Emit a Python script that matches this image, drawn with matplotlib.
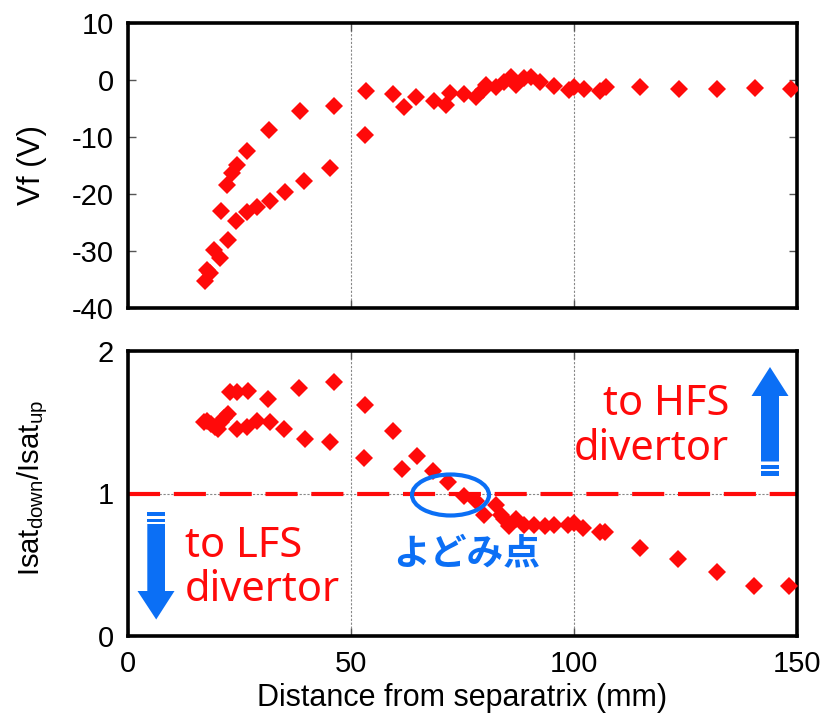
import matplotlib
matplotlib.use("Agg")
import matplotlib.pyplot as plt
from matplotlib.patches import Polygon, Ellipse

plt.rcParams['font.family'] = ['Liberation Sans', 'DejaVu Sans']
plt.rcParams['axes.unicode_minus'] = False
plt.rcParams['mathtext.fontset'] = 'custom'
plt.rcParams['mathtext.rm'] = 'Liberation Sans'

# floating potential vs distance from separatrix
x_vf = [17.3, 17.7, 18.4, 19.2, 20.7, 22.4, 20.8, 22.2, 23.3, 24.4, 26.7, 31.6,
        38.5, 46.2, 24.3, 26.7, 28.9, 31.8, 35.1, 39.4, 45.3, 53.1, 53.3, 59.5,
        61.9, 64.5, 68.5, 71.3, 72.2, 75.4, 78.0, 79.5, 80.3, 82.5, 84.4, 85.9,
        87.0, 88.9, 90.4, 92.3, 95.5, 98.8, 100.1, 102.2, 105.8, 107.1, 114.9,
        123.5, 132.1, 140.5, 148.6]
vf = [-35.3, -33.3, -33.9, -29.8, -31.3, -28.1, -22.9, -18.4, -16.4, -14.9, -12.4, -8.8,
      -5.4, -4.5, -24.7, -23.1, -22.3, -21.3, -19.6, -17.8, -15.5, -9.6, -2.0, -2.5,
      -4.8, -3.0, -3.7, -4.4, -2.2, -2.5, -3.0, -1.8, -0.8, -1.2, -0.3, 0.6,
      -0.9, 0.3, 0.6, -0.3, -1.1, -1.8, -1.2, -1.6, -2.0, -1.2, -1.2,
      -1.6, -1.6, -1.4, -1.6]

# ion saturation current ratio (downstream / upstream)
x_ratio = [17.0, 17.8, 18.6, 19.4, 20.2, 20.8, 21.6, 22.4, 24.4, 26.7, 28.9, 31.8,
           34.9, 39.6, 45.3, 52.9, 22.9, 24.4, 26.8, 31.5, 38.3, 46.2, 53.1, 59.5,
           61.5, 64.9, 68.3, 71.7, 75.3, 78.0, 79.9, 82.5, 83.7, 84.4, 85.5, 87.0,
           88.9, 91.1, 93.4, 95.6, 98.6, 100.1, 102.0, 105.8, 106.9, 114.8, 123.4,
           132.0, 140.4, 148.3]
ratio = [1.50, 1.51, 1.49, 1.47, 1.45, 1.50, 1.53, 1.56, 1.45, 1.47, 1.51, 1.50,
         1.45, 1.38, 1.36, 1.25, 1.71, 1.71, 1.72, 1.66, 1.74, 1.78, 1.62, 1.44,
         1.17, 1.26, 1.16, 1.08, 0.98, 0.95, 0.85, 0.92, 0.85, 0.82, 0.77, 0.82,
         0.78, 0.78, 0.77, 0.78, 0.78, 0.79, 0.76, 0.73, 0.73, 0.62, 0.54,
         0.45, 0.35, 0.35]

x_ticks = [0, 50, 100, 150]
vf_ticks = [10, 0, -10, -20, -30, -40]
ratio_ticks = [0, 1, 2]

RED = '#ff0a0a'
BLUE = '#0b6ff5'
W, H = 836, 722

fig = plt.figure(figsize=(W / 100, H / 100), dpi=100)
ax1 = fig.add_axes([128 / W, 1 - 308 / H, 669 / W, 285 / H])
ax2 = fig.add_axes([128 / W, 1 - 636 / H, 669 / W, 285 / H])

for ax in (ax1, ax2):
    ax.set_xlim(0, 150)
    ax.set_xticks(x_ticks)
    for s in ax.spines.values():
        s.set_linewidth(2.6)
    ax.tick_params(direction='in', length=6, width=1, color='#555555',
                   labelsize=21, top=True, right=True, pad=10)
    for xv in (50, 100):
        ax.axvline(xv, color='#888888', lw=0.8, ls=(0, (2, 1.5)), zorder=1)

ax1.plot(x_vf, vf, 'D', color=RED, ms=9.5, mew=0, zorder=3)
ax1.set_ylim(-40, 10)
ax1.set_yticks(vf_ticks)
ax1.tick_params(labelbottom=False)
ax1.set_ylabel('Vf (V)', fontsize=22.5)
ax1.yaxis.set_label_coords(-0.121, 0.5)

ax2.axhline(1, color='#888888', lw=0.8, ls=(0, (2, 1.5)), zorder=1)
ax2.axhline(1, color=RED, lw=3, dashes=(7.7, 3.3), zorder=2)
ax2.plot(x_ratio, ratio, 'D', color=RED, ms=9.5, mew=0, zorder=3)
ax2.set_ylim(0, 2)
ax2.set_yticks(ratio_ticks)
ax2.set_ylabel(r'Isat$_{\rm down}$/Isat$_{\rm up}$', fontsize=21)
ax2.yaxis.set_label_coords(-0.117, 0.52)
ax2.set_xlabel('Distance from separatrix (mm)', fontsize=22, labelpad=4)


def to_ax(px, py):
    # pixel position on the canvas -> fraction of the lower axes
    return ((px - 128) / 669, (636 - py) / 285)


def block(x0, x1, y0, y1):
    pts = [to_ax(x0, y0), to_ax(x1, y0), to_ax(x1, y1), to_ax(x0, y1)]
    ax2.add_patch(Polygon(pts, closed=True, transform=ax2.transAxes,
                          color=BLUE, lw=0, clip_on=False, zorder=4))


# downward arrow (to LFS)
block(147.3, 165, 512, 516)
block(147.3, 165, 518.5, 521.5)
ax2.add_patch(Polygon([to_ax(147.3, 524), to_ax(165, 524), to_ax(165, 591),
                       to_ax(174.5, 591), to_ax(156.2, 619.5), to_ax(137.5, 591),
                       to_ax(147.3, 591)],
                      closed=True, transform=ax2.transAxes, color=BLUE, lw=0, zorder=4))

# upward arrow (to HFS)
block(761, 779, 464.5, 468.5)
block(761, 779, 471, 475.5)
ax2.add_patch(Polygon([to_ax(761, 461.5), to_ax(779, 461.5), to_ax(779, 396),
                       to_ax(788.5, 396), to_ax(770, 367), to_ax(751.5, 396),
                       to_ax(761, 396)],
                      closed=True, transform=ax2.transAxes, color=BLUE, lw=0, zorder=4))

# stagnation point marker
cx, cy = to_ax(450.5, 495)
ax2.add_patch(Ellipse((cx, cy), 77 / 669, 41 / 285, transform=ax2.transAxes,
                      fill=False, ec=BLUE, lw=3, zorder=5))

txt = dict(color=RED, fontsize=30, family=['Noto Sans', 'DejaVu Sans'],
           transform=ax2.transAxes, va='baseline', zorder=5)
ax2.text(*to_ax(185, 557), 'to LFS', ha='left', **txt)
ax2.text(*to_ax(185, 601), 'divertor', ha='left', **txt)
ax2.text(*to_ax(729, 415), 'to HFS', ha='right', **txt)
ax2.text(*to_ax(729, 460), 'divertor', ha='right', **txt)

ax2.text(*to_ax(467, 554), 'よどみ点', color=BLUE, fontsize=26.5, fontweight='bold',
         family=['Noto Sans CJK JP', 'DejaVu Sans'], ha='center', va='center',
         transform=ax2.transAxes, zorder=5)

fig.savefig('out.png', dpi=100)
